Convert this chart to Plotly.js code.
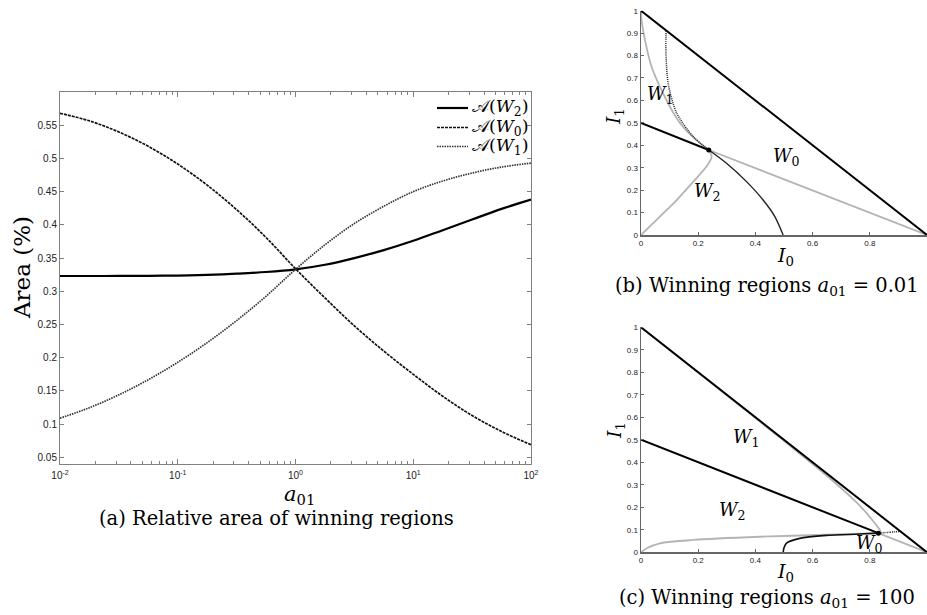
<!DOCTYPE html>
<html>
<head>
<meta charset="utf-8">
<script src="https://cdn.plot.ly/plotly-3.0.1.min.js"></script>
<style>
  html, body { margin: 0; padding: 0; background: #fff; }
  #fig { width: 927px; height: 615px; }
</style>
</head>
<body>
<div id="fig"></div>
<script>
// ---- (a) relative area of the winning regions vs. a01 (quarter-decade samples) ----
const a01 = [0.01, 0.0178, 0.0316, 0.0562, 0.1, 0.178, 0.316, 0.562, 1,
             1.78, 3.16, 5.62, 10, 17.8, 31.6, 56.2, 100];
const areaW2 = [0.323, 0.323, 0.3231, 0.3233, 0.3237, 0.3247, 0.3265, 0.329, 0.333,
                0.340, 0.350, 0.362, 0.376, 0.392, 0.408, 0.424, 0.438];
const areaW0 = [0.568, 0.5565, 0.5398, 0.5182, 0.4915, 0.4597, 0.4229, 0.381, 0.334,
                0.290, 0.248, 0.210, 0.175, 0.142, 0.113, 0.089, 0.069];
const areaW1 = [0.109, 0.1248, 0.1441, 0.1669, 0.1931, 0.2228, 0.2559, 0.2925, 0.333,
                0.370, 0.402, 0.428, 0.450, 0.466, 0.478, 0.487, 0.493];
const seriesNames = ['𝒜(<i>W</i><sub>2</sub>)', '𝒜(<i>W</i><sub>0</sub>)', '𝒜(<i>W</i><sub>1</sub>)'];
const xTickVals = [0.01, 0.1, 1, 10, 100];
const xTickText = ['10<sup>-2</sup>', '10<sup>-1</sup>', '10<sup>0</sup>', '10<sup>1</sup>', '10<sup>2</sup>'];
const yTickVals = [0.05, 0.1, 0.15, 0.2, 0.25, 0.3, 0.35, 0.4, 0.45, 0.5, 0.55];

// ---- (b) winning regions, a01 = 0.01 ----
const bHypI0 = [0, 1], bHypI1 = [1, 0];
const bSplitI0 = [0, 0.237], bSplitI1 = [0.5, 0.379];
const bGreyLineI0 = [0.237, 1], bGreyLineI1 = [0.379, 0];
const bBlackCurveI0 = [0.237, 0.299, 0.369, 0.427, 0.468, 0.497];
const bBlackCurveI1 = [0.379, 0.320, 0.238, 0.156, 0.082, 0.0];
const bDottedI0 = [0.237, 0.183, 0.125, 0.095, 0.087, 0.088];
const bDottedI1 = [0.379, 0.438, 0.543, 0.676, 0.825, 0.912];
const bGreyUpperI0 = [0, 0.002, 0.014, 0.037, 0.066, 0.101, 0.136, 0.183, 0.237];
const bGreyUpperI1 = [1, 0.958, 0.869, 0.75, 0.661, 0.572, 0.5, 0.435, 0.379];
const bGreyLowerI0 = [0, 0.066, 0.125, 0.183, 0.229, 0.247, 0.241, 0.237];
const bGreyLowerI1 = [0, 0.082, 0.156, 0.238, 0.305, 0.349, 0.371, 0.379];
const bJunction = [0.237, 0.379];

// ---- (c) winning regions, a01 = 100 ----
const cHypI0 = [0, 1], cHypI1 = [1, 0];
const cSplitI0 = [0, 0.83], cSplitI1 = [0.5, 0.085];
const cDottedI0 = [0.83, 0.87, 0.907], cDottedI1 = [0.085, 0.089, 0.093];
const cGreyLineI0 = [0.83, 1], cGreyLineI1 = [0.085, 0];
const cGreyUpperI0 = [0, 0.3, 0.5, 0.65, 0.75, 0.788, 0.817, 0.835, 0.838, 0.83];
const cGreyUpperI1 = [1, 0.698, 0.495, 0.34, 0.226, 0.175, 0.13, 0.1, 0.09, 0.085];
const cGreyLowerI0 = [0, 0.02, 0.066, 0.183, 0.415, 0.648, 0.83];
const cGreyLowerI1 = [0, 0.018, 0.04, 0.055, 0.069, 0.078, 0.085];
const cBlackCurveI0 = [0.497, 0.5, 0.508, 0.555, 0.648, 0.764, 0.83];
const cBlackCurveI1 = [0, 0.02, 0.04, 0.062, 0.075, 0.081, 0.085];
const cJunction = [0.83, 0.085];

const W = 927, H = 615;
const SERIF = 'DejaVu Serif, serif';
const SANS = 'Liberation Sans, Arial, sans-serif';

// minor tick positions for the log axis: 2..9 within each decade
const minorVals = [];
for (let k = -2; k < 2; k++) for (let d = 2; d <= 9; d++) minorVals.push(d * Math.pow(10, k));

// line styles of the three area curves (also used by the legend samples)
const seriesStyles = [
  { color: '#000', width: 2.2, dash: 'solid' },
  { color: '#111', width: 1.7, dash: '3px,1px' },
  { color: '#333', width: 1.7, dash: '1.5px,1px' }
];

function line(x, y, axis, color, width, dash) {
  return {
    x: x, y: y, xaxis: 'x' + axis, yaxis: 'y' + axis, mode: 'lines', type: 'scatter',
    line: { color: color, width: width, dash: dash || 'solid', shape: 'spline', smoothing: 0.8 },
    showlegend: false, hoverinfo: 'skip'
  };
}

const areaSeries = [areaW2, areaW0, areaW1];
const traces = areaSeries.map((ys, i) => ({
  x: a01, y: ys, mode: 'lines', name: seriesNames[i], showlegend: false,
  line: Object.assign({ shape: 'spline', smoothing: 1 }, seriesStyles[i])
}));

traces.push(
  line(bGreyUpperI0, bGreyUpperI1, 2, '#b4b4b4', 1.8),
  line(bGreyLowerI0, bGreyLowerI1, 2, '#b4b4b4', 1.8),
  line(bGreyLineI0, bGreyLineI1, 2, '#b4b4b4', 1.8),
  line(bHypI0, bHypI1, 2, '#000', 2),
  line(bSplitI0, bSplitI1, 2, '#000', 2),
  line(bBlackCurveI0, bBlackCurveI1, 2, '#222', 1.4),
  line(bDottedI0, bDottedI1, 2, '#222', 1.5, '1px,1px'),
  { x: [bJunction[0]], y: [bJunction[1]], xaxis: 'x2', yaxis: 'y2', mode: 'markers',
    marker: { color: '#000', size: 5 }, showlegend: false, hoverinfo: 'skip' },

  line(cGreyUpperI0, cGreyUpperI1, 3, '#b4b4b4', 1.8),
  line(cGreyLowerI0, cGreyLowerI1, 3, '#b4b4b4', 1.8),
  line(cGreyLineI0, cGreyLineI1, 3, '#b4b4b4', 1.8),
  line(cHypI0, cHypI1, 3, '#000', 2),
  line(cSplitI0, cSplitI1, 3, '#000', 2),
  line(cBlackCurveI0, cBlackCurveI1, 3, '#111', 1.6),
  line(cDottedI0, cDottedI1, 3, '#222', 1.5, '1px,1px'),
  { x: [cJunction[0]], y: [cJunction[1]], xaxis: 'x3', yaxis: 'y3', mode: 'markers',
    marker: { color: '#000', size: 5 }, showlegend: false, hoverinfo: 'skip' }
);

function px(x) { return x / W; }
function py(y) { return 1 - y / H; }

const smallAxis = {
  showgrid: false, zeroline: false, showline: true, linecolor: '#666', linewidth: 1.5,
  ticks: 'inside', ticklen: 3, tickwidth: 1, tickcolor: '#666', mirror: false,
  tickfont: { family: SANS, size: 8, color: '#222' }, automargin: false, fixedrange: true
};

function ann(text, x, y, size, extra) {
  return Object.assign({
    text: text, xref: 'paper', yref: 'paper', x: px(x), y: py(y),
    xanchor: 'center', yanchor: 'middle', showarrow: false,
    font: { family: SERIF, size: size, color: '#000' }
  }, extra || {});
}
function dataAnn(text, axis, x, y, size) {
  return {
    text: text, xref: 'x' + axis, yref: 'y' + axis, x: x, y: y,
    xanchor: 'center', yanchor: 'middle', showarrow: false,
    font: { family: SERIF, size: size, color: '#000' }
  };
}

// legend for panel (a): short line samples with labels, top right inside the axes
const legendRows = [108, 127.5, 146.5];
const legendShapes = legendRows.map((r, i) => ({
  type: 'line', xref: 'paper', yref: 'paper',
  x0: px(437), x1: px(468), y0: py(r), y1: py(r),
  line: { color: seriesStyles[i].color, width: seriesStyles[i].width, dash: seriesStyles[i].dash }
}));
const legendLabels = legendRows.map((r, i) =>
  ann(seriesNames[i], 470, r, 17.5, { xanchor: 'left' }));

const layout = {
  width: W, height: H,
  margin: { l: 0, r: 0, t: 0, b: 0 },
  paper_bgcolor: '#fff', plot_bgcolor: 'rgba(0,0,0,0)',
  showlegend: false,
  xaxis: {
    type: 'log', domain: [px(60), px(531)], range: [-2, 2], anchor: 'y',
    tickvals: xTickVals, ticktext: xTickText, ticklabelstandoff: 2,
    showgrid: false, zeroline: false, showline: true, linecolor: '#808080', linewidth: 1,
    mirror: 'ticks', ticks: 'inside', ticklen: 5, tickcolor: '#808080',
    minor: { tickvals: minorVals, ticks: 'inside', ticklen: 3, tickcolor: '#808080' },
    tickfont: { family: SANS, size: 10, color: '#222' }, automargin: false
  },
  yaxis: {
    domain: [py(464), py(92)], range: [0.04, 0.6], anchor: 'x',
    tickvals: yTickVals,
    showgrid: false, zeroline: false, showline: true, linecolor: '#808080', linewidth: 1,
    mirror: 'ticks', ticks: 'inside', ticklen: 4, tickcolor: '#808080',
    tickfont: { family: SANS, size: 10, color: '#222' }, automargin: false
  },
  xaxis2: Object.assign({}, smallAxis, { domain: [px(641), 1], range: [0, 1], dtick: 0.2, tick0: 0, anchor: 'y2' }),
  yaxis2: Object.assign({}, smallAxis, { domain: [py(235), py(10.7)], range: [0, 1], dtick: 0.1, tick0: 0, anchor: 'x2' }),
  xaxis3: Object.assign({}, smallAxis, { domain: [px(641), 1], range: [0, 1], dtick: 0.2, tick0: 0, anchor: 'y3' }),
  yaxis3: Object.assign({}, smallAxis, { domain: [py(552.3), py(327.3)], range: [0, 1], dtick: 0.1, tick0: 0, anchor: 'x3' }),
  shapes: legendShapes,
  annotations: legendLabels.concat([
    ann('Area (%)', 22, 268, 23, { textangle: -90 }),
    ann('<i>a</i><sub>01</sub>', 299, 480, 21, { yanchor: 'top' }),
    ann('(a) Relative area of winning regions', 276, 518, 19.5),

    ann('<i>I</i><sub>1</sub>', 615, 117, 19, { textangle: -90 }),
    ann('<i>I</i><sub>0</sub>', 785, 256, 19),
    ann('(b) Winning regions <i>a</i><sub>01</sub> = 0.01', 767, 286, 19.5),
    dataAnn('<i>W</i><sub>1</sub>', 2, 0.068, 0.624, 18),
    dataAnn('<i>W</i><sub>0</sub>', 2, 0.51, 0.349, 18),
    dataAnn('<i>W</i><sub>2</sub>', 2, 0.232, 0.19, 18),

    ann('<i>I</i><sub>1</sub>', 615, 431, 19, { textangle: -90 }),
    ann('<i>I</i><sub>0</sub>', 785, 572, 19),
    ann('(c) Winning regions <i>a</i><sub>01</sub> = 100', 767, 598, 19.5),
    dataAnn('<i>W</i><sub>1</sub>', 3, 0.369, 0.508, 18),
    dataAnn('<i>W</i><sub>2</sub>', 3, 0.321, 0.185, 18),
    dataAnn('<i>W</i><sub>0</sub>', 3, 0.80, 0.037, 18)
  ])
};

Plotly.newPlot('fig', traces, layout, { displayModeBar: false, staticPlot: true });
</script>
</body>
</html>
